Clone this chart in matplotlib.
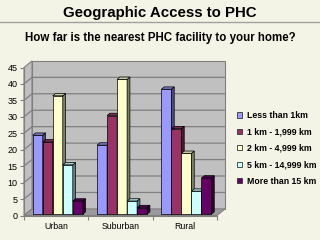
import numpy as np
import matplotlib
matplotlib.use("Agg")
from matplotlib import pyplot as plt
from matplotlib.patches import Polygon, Patch

plt.rcParams['font.family'] = ['Liberation Sans', 'DejaVu Sans']

# survey data (percent of respondents)
categories = ['Urban', 'Suburban', 'Rural']
series_names = ['Less than 1km', '1 km - 1,999 km', '2 km - 4,999 km',
                '5 km - 14,999 km', 'More than 15 km']
less_1km = [24, 21, 38]
km_1_2 = [22, 30, 26]
km_2_5 = [36, 41, 18.5]
km_5_15 = [15, 4, 7]
more_15 = [4, 2, 11]
series_values = [less_1km, km_1_2, km_2_5, km_5_15, more_15]
y_ticks = list(range(0, 50, 5))

colors = ['#9999FF', '#993366', '#FFFFCC', '#CCFFFF', '#660066']
bg = '#F4F4E6'


def shade(c, f):
    r, g, b = matplotlib.colors.to_rgb(c)
    return (r * f, g * f, b * f)


fig = plt.figure(figsize=(3.2, 2.4), dpi=100, facecolor=bg)
fig.text(0.5, 0.947, 'Geographic Access to PHC', ha='center', va='center',
         fontsize=10.8, fontweight='bold')
fig.add_artist(plt.Line2D([0, 1], [0.908, 0.908], color='#A0A0A0', lw=1.0))
fig.text(0.5, 0.840, 'How far is the nearest PHC facility to your home?',
         ha='center', va='center', fontsize=8.3, fontweight='bold')

# front plane of the 3d box
ax = fig.add_axes([24 / 320, 24.5 / 240, 193 / 320, 148 / 240])
ax.set_xlim(0, 3)
ax.set_ylim(0, 45)
ax.patch.set_visible(False)

# oblique depth offset, converted to data units
ddx = 8 / (193 / 3)
ddy = 6.6 / (148 / 45)


def proj(x, y, d):
    return (x + d * ddx, y + d * ddy)


wall = '#C0C0C0'
grid = '#808080'
ymax = y_ticks[-1]
ncat = len(categories)

back = Polygon([proj(0, 0, 1), proj(ncat, 0, 1), proj(ncat, ymax, 1), proj(0, ymax, 1)],
               closed=True, facecolor=wall, edgecolor=grid, lw=0.8, clip_on=False, zorder=0)
side = Polygon([proj(0, 0, 0), proj(0, 0, 1), proj(0, ymax, 1), proj(0, ymax, 0)],
               closed=True, facecolor=wall, edgecolor=grid, lw=0.8, clip_on=False, zorder=0)
floor = Polygon([proj(0, 0, 0), proj(ncat, 0, 0), proj(ncat, 0, 1), proj(0, 0, 1)],
                closed=True, facecolor='#9A9A9A', edgecolor=grid, lw=0.8, clip_on=False, zorder=0.5)
for p in (back, side, floor):
    ax.add_patch(p)

for v in y_ticks[1:-1]:
    xs, ys = zip(proj(0, v, 0), proj(0, v, 1), proj(ncat, v, 1))
    ax.plot(xs, ys, color=grid, lw=0.9, clip_on=False, zorder=0.3)

# 3d columns: front face via bar(), plus side and top faces
w = 0.1555
d0, d1 = 0.2, 0.55
start = (1 - w * len(series_values)) / 2
for k, (vals, c) in enumerate(zip(series_values, colors)):
    x0s = np.arange(ncat) + start + k * w
    z = 2 + k
    ax.bar(x0s + d0 * ddx, vals, width=w, bottom=d0 * ddy, align='edge',
           color=c, edgecolor='black', lw=0.5, zorder=z, label=series_names[k])
    for x0, v in zip(x0s, vals):
        x1 = x0 + w
        ax.add_patch(Polygon([proj(x1, 0, d0), proj(x1, 0, d1), proj(x1, v, d1), proj(x1, v, d0)],
                             closed=True, facecolor=shade(c, 0.5), edgecolor='black',
                             lw=0.5, zorder=z, clip_on=False))
        ax.add_patch(Polygon([proj(x0, v, d0), proj(x1, v, d0), proj(x1, v, d1), proj(x0, v, d1)],
                             closed=True, facecolor=shade(c, 0.8), edgecolor='black',
                             lw=0.5, zorder=z, clip_on=False))

# axes
for s in ['top', 'right']:
    ax.spines[s].set_visible(False)
for s in ['left', 'bottom']:
    ax.spines[s].set_color(grid)
    ax.spines[s].set_linewidth(0.8)
ax.set_yticks(y_ticks)
ax.set_yticklabels([str(t) for t in y_ticks], fontsize=6.5)
ax.set_xticks(range(ncat + 1))
ax.set_xticklabels([])
ax.set_xticks(np.arange(ncat) + 0.5, minor=True)
ax.set_xticklabels(categories, minor=True, fontsize=6.3)
ax.tick_params(axis='both', which='major', length=3, width=0.8, color=grid, pad=1.5)
ax.tick_params(axis='x', which='minor', length=0, pad=5)

handles = [Patch(facecolor=c, edgecolor='#333333', lw=0.6) for c in colors]
fig.legend(handles, series_names, loc='upper left', bbox_to_anchor=(237 / 320, 1 - 111 / 240),
           frameon=False, prop={'weight': 'bold', 'size': 6.3},
           handlelength=0.55, handleheight=0.55, handletextpad=0.6, labelspacing=0.85,
           borderpad=0, borderaxespad=0)

fig.savefig('out.png', dpi=100, facecolor=bg)
